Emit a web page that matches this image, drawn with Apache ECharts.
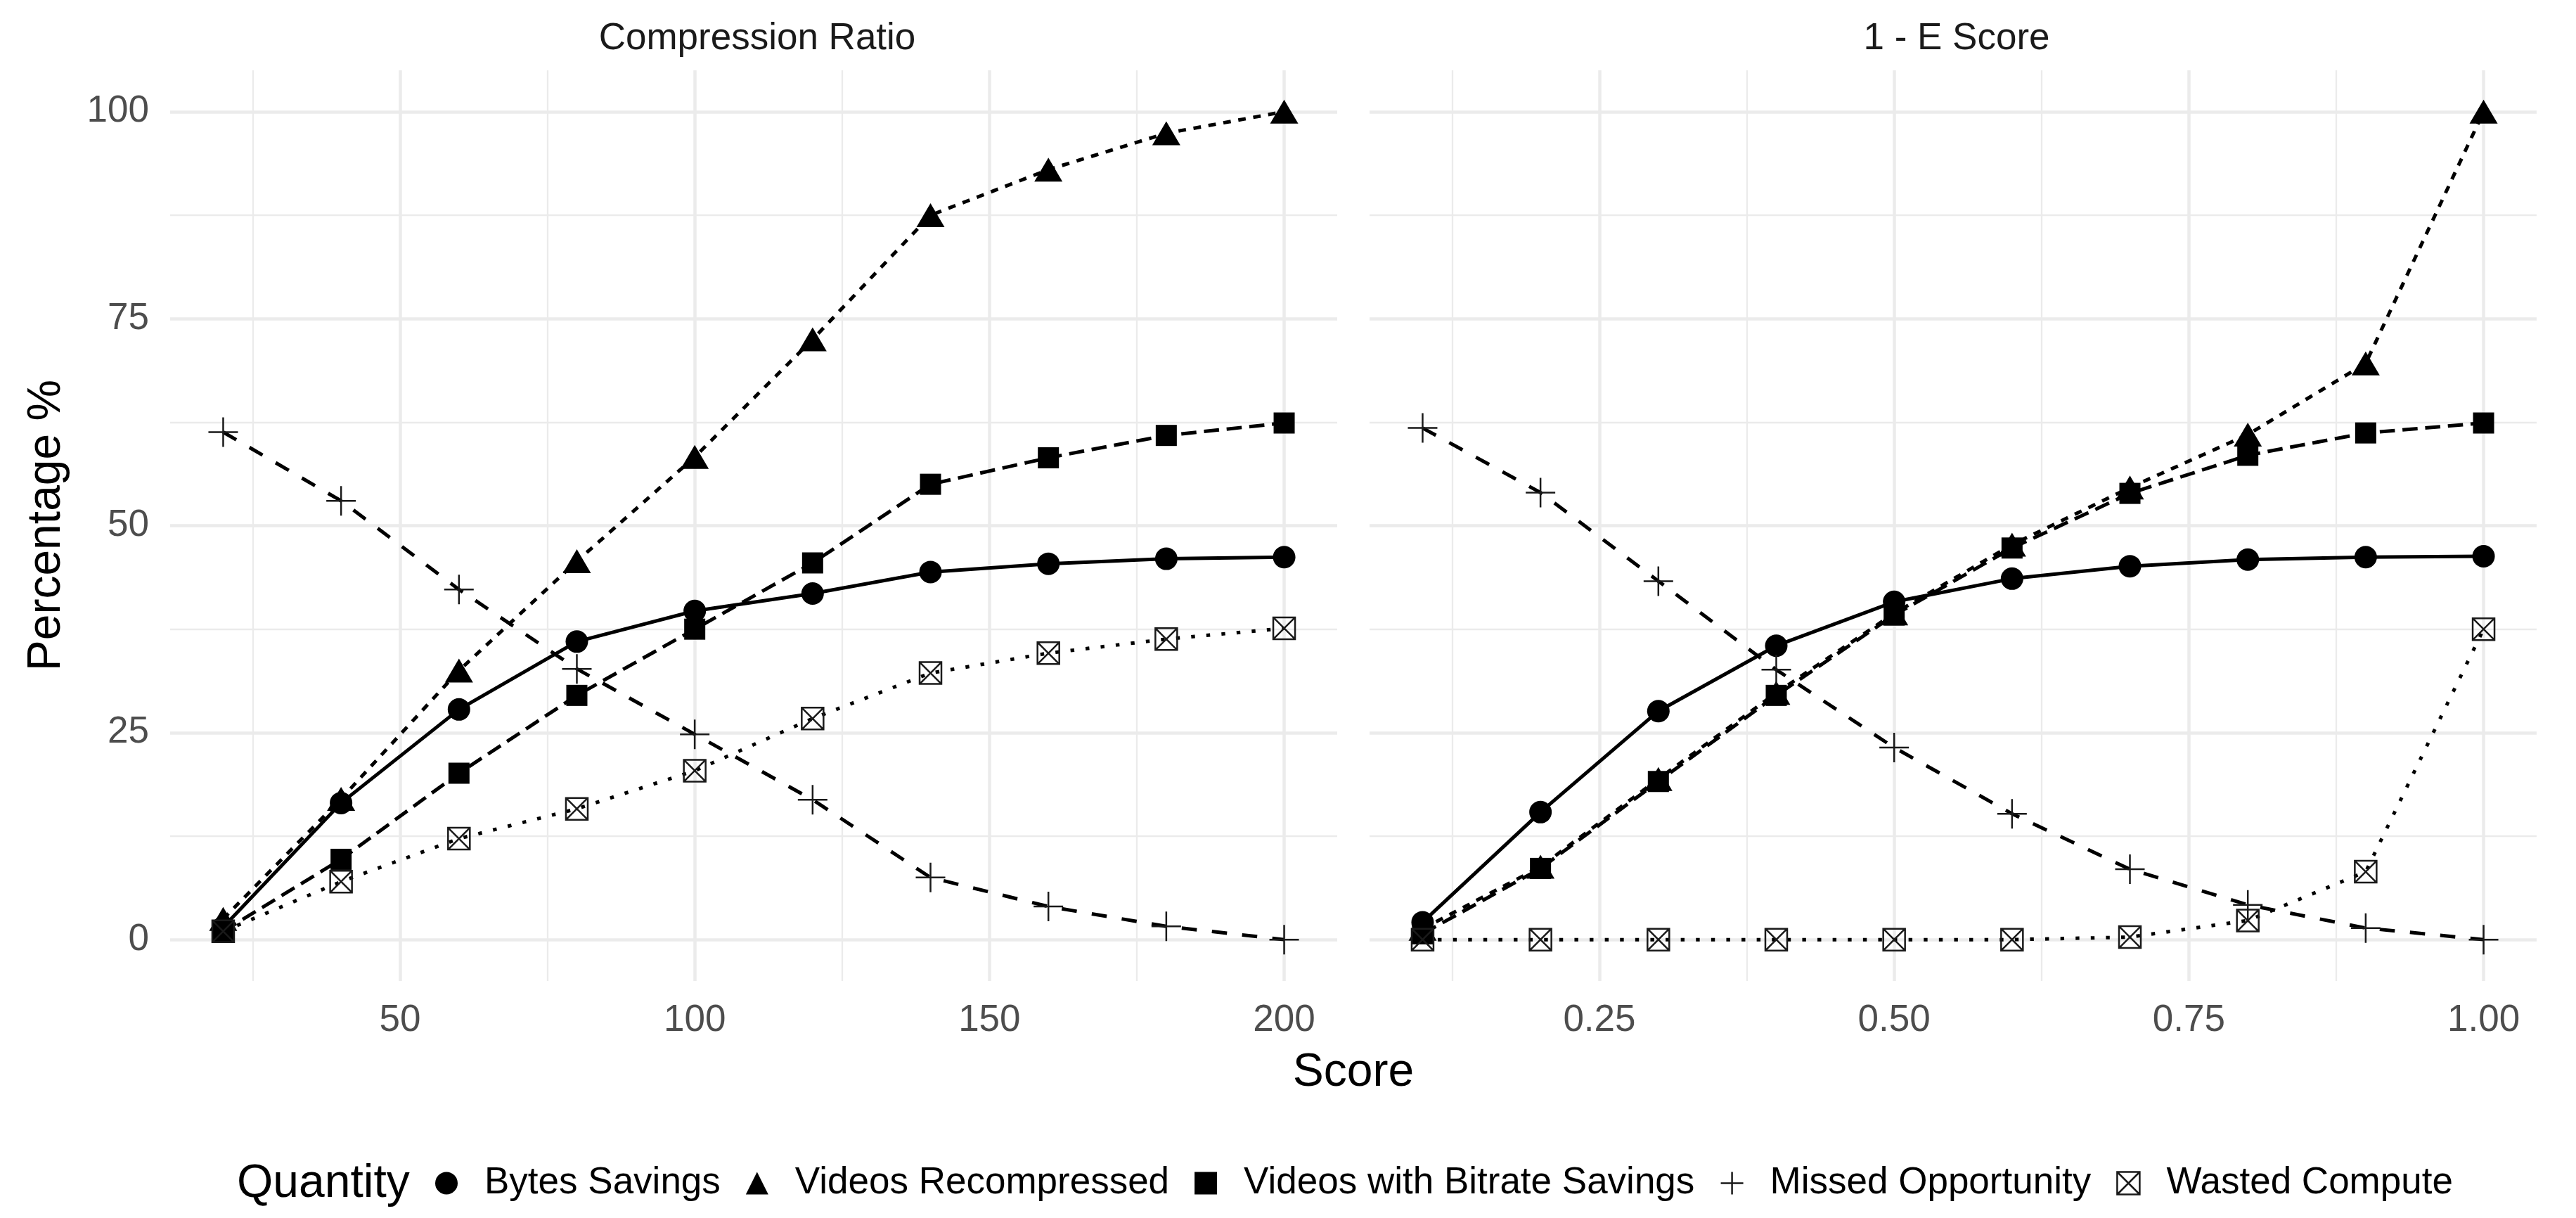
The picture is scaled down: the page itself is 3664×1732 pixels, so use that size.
<!DOCTYPE html>
<html>
<head>
<meta charset="utf-8">
<title>Compression Ratio / 1 - E Score</title>
<script src="https://cdn.jsdelivr.net/npm/echarts@6/dist/echarts.min.js"></script>
<style>
    html, body { margin: 0; padding: 0; background: #ffffff; }
    #container { width: 3664px; height: 1732px; }
</style>
</head>
<body>
<div id="container"></div>
<script>
// data
var quantities = ["Bytes Savings", "Videos Recompressed", "Videos with Bitrate Savings", "Missed Opportunity", "Wasted Compute"];

var crScore = [20, 40, 60, 80, 100, 120, 140, 160, 180, 200];
var crBytes = [1.5, 16.5, 27.8, 36.0, 39.7, 41.8, 44.4, 45.4, 46.0, 46.2];
var crRecomp = [2.5, 17.0, 32.5, 45.7, 58.3, 72.5, 87.5, 93.0, 97.4, 100];
var crBitrate = [1.0, 9.7, 20.1, 29.5, 37.5, 45.5, 55.0, 58.2, 60.9, 62.4];
var crMissed = [61.3, 53.0, 42.3, 32.7, 24.8, 16.9, 7.5, 4.0, 1.6, 0];
var crWasted = [1.0, 7.0, 12.2, 15.8, 20.4, 26.7, 32.2, 34.6, 36.3, 37.6];

var eScore = [0.1, 0.2, 0.3, 0.4, 0.5, 0.6, 0.7, 0.8, 0.9, 1.0];
var eBytes = [2.1, 15.4, 27.6, 35.5, 40.8, 43.6, 45.1, 45.9, 46.2, 46.3];
var eRecomp = [1.3, 8.8, 19.4, 29.8, 39.4, 47.7, 54.6, 61.0, 69.6, 100];
var eBitrate = [0.7, 8.6, 19.1, 29.5, 39.2, 47.3, 53.9, 58.5, 61.2, 62.4];
var eMissed = [61.8, 54.0, 43.3, 32.6, 23.2, 15.2, 8.5, 4.2, 1.4, 0];
var eWasted = [0, 0, 0, 0, 0, 0, 0.3, 2.3, 8.2, 37.5];

var crTicks = [50, 100, 150, 200];
var crMinor = [25, 75, 125, 175];
var eTicks = [0.25, 0.5, 0.75, 1.0];
var eMinor = [0.125, 0.375, 0.625, 0.875];
var yTicks = [0, 25, 50, 75, 100];
var yMinor = [12.5, 37.5, 62.5, 87.5];

// look of each quantity (ggplot linetypes solid, 22, 42, 44, 13)
var FONT = "'Liberation Sans', Arial, sans-serif";
var u = 5.4;
var dashes = ["solid", [2 * u, 2 * u], [4 * u, 2 * u], [4 * u, 4 * u], [u, 3 * u]];
var plusPath = "path://M0,10H20M10,0V20";
var boxPath = "path://M0,0H20V20H0ZM0,0L20,20M20,0L0,20";
var symbols = ["circle", "triangle", "rect", plusPath, boxPath];
var symbolSizes = [32, [40, 34], 30, 42, 31];
var hollow = [false, false, false, true, true];

function pointStyle(i) {
    if (hollow[i]) {
        return { color: "rgba(0,0,0,0)", borderColor: "#1a1a1a", borderWidth: 2.5, opacity: 1 };
    }
    return { color: "#000000", opacity: 1 };
}

function pairs(xs, ys) {
    return xs.map(function (x, k) { return [x, ys[k]]; });
}

/**
 * value axis for one panel; majors carry the labels, minors only grid lines
*/
function axis(kind, gridIndex, min, max, values, major, showLabel, fmt) {
    return {
        type: "value",
        gridIndex: gridIndex,
        min: min,
        max: max,
        axisLine: { show: false },
        axisTick: { show: false, customValues: values },
        axisLabel: {
            show: showLabel,
            customValues: values,
            color: "#4d4d4d",
            fontSize: 53,
            fontFamily: FONT,
            margin: kind === "x" ? 30 : 30,
            formatter: fmt
        },
        splitLine: {
            show: true,
            lineStyle: { color: "#ebebeb", width: major ? 4.5 : 2.3 }
        }
    };
}

var fmt2 = function (v) { return v.toFixed(2); };
var fmt0 = function (v) { return String(v); };

var xAxes = [
    axis("x", 0, 11, 209, crTicks, true, true, fmt0),
    axis("x", 0, 11, 209, crMinor, false, false, fmt0),
    axis("x", 1, 0.055, 1.045, eTicks, true, true, fmt2),
    axis("x", 1, 0.055, 1.045, eMinor, false, false, fmt2)
];
var yAxes = [
    axis("y", 0, -5, 105, yTicks, true, true, fmt0),
    axis("y", 0, -5, 105, yMinor, false, false, fmt0),
    axis("y", 1, -5, 105, yTicks, true, false, fmt0),
    axis("y", 1, -5, 105, yMinor, false, false, fmt0)
];

var panels = [
    { axis: 0, x: crScore, ys: [crBytes, crRecomp, crBitrate, crMissed, crWasted] },
    { axis: 2, x: eScore, ys: [eBytes, eRecomp, eBitrate, eMissed, eWasted] }
];

var lineSeries = [];
var pointSeries = [];
panels.forEach(function (p) {
    p.ys.forEach(function (ys, i) {
        var data = pairs(p.x, ys);
        lineSeries.push({
            type: "line",
            name: quantities[i],
            xAxisIndex: p.axis,
            yAxisIndex: p.axis,
            data: data,
            showSymbol: false,
            silent: true,
            z: 2,
            lineStyle: { color: "#000000", width: 5, type: dashes[i], cap: "butt", opacity: 1 },
            itemStyle: pointStyle(i)
        });
        pointSeries.push({
            type: "scatter",
            name: quantities[i],
            xAxisIndex: p.axis,
            yAxisIndex: p.axis,
            data: data,
            symbol: symbols[i],
            symbolSize: symbolSizes[i],
            silent: true,
            z: 3,
            itemStyle: pointStyle(i)
        });
    });
});

var legendData = quantities.map(function (q, i) {
    return {
        name: q,
        icon: symbols[i],
        itemStyle: pointStyle(i)
    };
});

var chart = echarts.init(document.getElementById("container"), null, { renderer: "canvas" });
chart.setOption({
    animation: false,
    backgroundColor: "#ffffff",
    textStyle: { fontFamily: FONT },
    title: [
        { text: "Compression Ratio", left: 1072, top: 24, textAlign: "center",
          textStyle: { fontSize: 53, fontWeight: "normal", color: "#1a1a1a", fontFamily: FONT } },
        { text: "1 - E Score", left: 2778, top: 24, textAlign: "center",
          textStyle: { fontSize: 53, fontWeight: "normal", color: "#1a1a1a", fontFamily: FONT } }
    ],
    grid: [
        { left: 242, top: 100, width: 1660, height: 1295, outerBoundsMode: "none" },
        { left: 1948, top: 100, width: 1660, height: 1295, outerBoundsMode: "none" }
    ],
    xAxis: xAxes,
    yAxis: yAxes,
    legend: {
        data: legendData,
        left: 614,
        top: 1651,
        orient: "horizontal",
        itemWidth: 32,
        itemHeight: 32,
        itemGap: 36,
        selectedMode: false,
        textStyle: { fontSize: 53, color: "#000000", fontFamily: FONT, padding: [0, 0, 0, 33] }
    },
    graphic: [
        { type: "text", x: 1925, y: 1526,
          style: { text: "Score", fill: "#000000", font: "66px " + FONT, align: "center", verticalAlign: "middle" } },
        { type: "text", x: 67, y: 747, rotation: Math.PI / 2,
          style: { text: "Percentage %", fill: "#000000", font: "66px " + FONT, align: "center", verticalAlign: "middle" } },
        { type: "text", x: 337, y: 1684,
          style: { text: "Quantity", fill: "#000000", font: "66px " + FONT, align: "left", verticalAlign: "middle" } }
    ],
    series: lineSeries.concat(pointSeries)
});
window.addEventListener("resize", chart.resize);
</script>
</body>
</html>
